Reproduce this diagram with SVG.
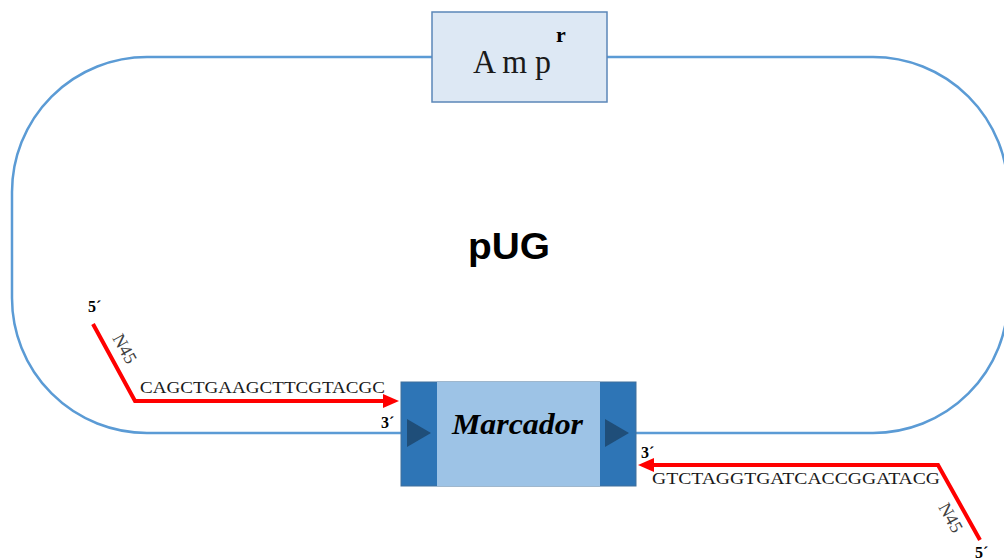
<svg xmlns="http://www.w3.org/2000/svg" width="1004" height="560" viewBox="0 0 1004 560">
<defs>
<style>
.plasmid{fill:none;stroke:#5b9bd5;stroke-width:2.5}
.primer{fill:none;stroke:#ff0000;stroke-width:4;stroke-linejoin:miter}
.seq{font-family:"Liberation Serif",serif;font-size:17px;fill:#1a1a1a}
.end{font-family:"Liberation Serif",serif;font-size:16px;font-weight:bold;fill:#000}
.n45{font-family:"Liberation Serif",serif;font-size:18px;fill:#404040}
</style>
<marker id="arr" viewBox="0 0 16 14" refX="9" refY="7" markerWidth="16" markerHeight="14" orient="auto" markerUnits="userSpaceOnUse">
<path d="M0,0 L16,7 L0,14 z" fill="#ff0000"/>
</marker>
</defs>
<g id="plasmid">
<rect class="plasmid" x="12" y="57" width="996" height="376" rx="135" ry="135"/>
</g>
<g id="amp">
<rect x="432" y="12" width="175" height="90" fill="#dde8f4" stroke="#5b87b8" stroke-width="1.5"/>
<text x="473" y="73" font-family="Liberation Serif,serif" font-size="33" fill="#1a1a1a" textLength="78" lengthAdjust="spacingAndGlyphs">A m p</text>
<text x="556" y="42" font-family="Liberation Serif,serif" font-size="22" font-weight="bold" fill="#000">r</text>
</g>
<g id="label">
<text x="468" y="259" font-family="Liberation Sans,sans-serif" font-size="36" font-weight="bold" fill="#000" textLength="82" lengthAdjust="spacingAndGlyphs">pUG</text>
</g>
<g id="marcador">
<rect x="401" y="382" width="235" height="104" fill="#2e75b6" stroke="#41719c" stroke-width="1"/>
<rect x="437" y="382" width="163" height="104" fill="#9dc3e6"/>
<path d="M407,419 L431,433 L407,447 z" fill="#1f4e79"/>
<path d="M605,419 L629,433 L605,447 z" fill="#1f4e79"/>
<text x="452" y="434" font-family="Liberation Serif,serif" font-size="30" font-weight="bold" font-style="italic" fill="#000" textLength="131" lengthAdjust="spacingAndGlyphs">Marcador</text>
</g>
<g id="connectors">
<path class="primer" d="M93,324 L135,401 L392,401" marker-end="url(#arr)"/>
<path class="primer" d="M980,540 L938,465 L645,465" marker-end="url(#arr)"/>
</g>
<g id="primer-left">
<text class="end" x="88" y="312">5´</text>
<text class="n45" transform="translate(112,338) rotate(61)">N45</text>
<text class="seq" x="140" y="393" textLength="245" lengthAdjust="spacingAndGlyphs">CAGCTGAAGCTTCGTACGC</text>
<text class="end" x="381" y="428">3´</text>
</g>
<g id="primer-right">
<text class="end" x="641" y="458">3´</text>
<text class="seq" x="652" y="484" textLength="288" lengthAdjust="spacingAndGlyphs">GTCTAGGTGATCACCGGATACG</text>
<text class="n45" transform="translate(938,507) rotate(61)">N45</text>
<text class="end" x="975" y="558">5´</text>
</g>
</svg>
